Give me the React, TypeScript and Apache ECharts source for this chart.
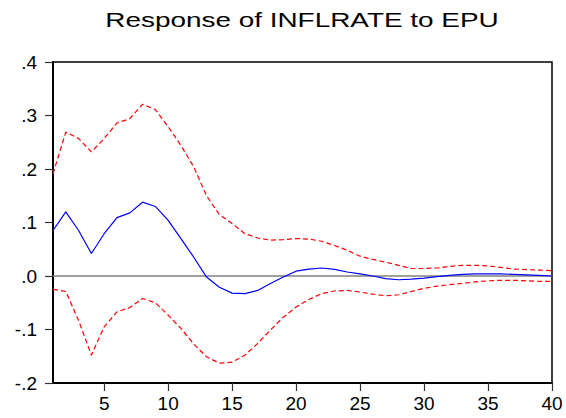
import React, { useEffect, useRef } from "react";
import * as echarts from "echarts";

const periods: number[] = Array.from({ length: 40 }, (_, i) => i + 1);

const response: number[] = [
  0.085, 0.12, 0.085, 0.042, 0.079, 0.109, 0.118, 0.138, 0.13, 0.104,
  0.07, 0.035, -0.002, -0.021, -0.032, -0.033, -0.027, -0.014, -0.002, 0.009,
  0.013, 0.015, 0.0125, 0.0075, 0.004, 0.0, -0.005, -0.007, -0.006, -0.004,
  -0.001, 0.001, 0.003, 0.004, 0.004, 0.004, 0.003, 0.002, 0.001, 0.0,
];

const upperBand: number[] = [
  0.191, 0.269, 0.257, 0.232, 0.257, 0.286, 0.294, 0.321, 0.311, 0.279,
  0.244, 0.204, 0.15, 0.115, 0.098, 0.079, 0.071, 0.067, 0.068, 0.07,
  0.069, 0.065, 0.057, 0.048, 0.037, 0.031, 0.026, 0.02, 0.014, 0.014,
  0.015, 0.018, 0.02, 0.02, 0.019, 0.016, 0.013, 0.012, 0.011, 0.01,
];

const lowerBand: number[] = [
  -0.025, -0.029, -0.083, -0.148, -0.095, -0.067, -0.059, -0.042, -0.05, -0.073,
  -0.098, -0.127, -0.151, -0.163, -0.161, -0.148, -0.126, -0.101, -0.077, -0.058,
  -0.044, -0.033, -0.028, -0.027, -0.03, -0.034, -0.037, -0.035, -0.029, -0.023,
  -0.019, -0.016, -0.014, -0.011, -0.009, -0.008, -0.008, -0.009, -0.01, -0.01,
];

const xTickValues: number[] = [5, 10, 15, 20, 25, 30, 35, 40];
const titleText = "Response of INFLRATE to EPU";

const pair = (vals: number[]) => periods.map((p, i) => [p, vals[i]]);

export default function App() {
  const ref = useRef<HTMLDivElement>(null);
  useEffect(() => {
    if (!ref.current) return;
    const chart = echarts.init(ref.current, null, { renderer: "svg" });
    const font = "'Liberation Sans', Arial, sans-serif";
    chart.setOption({
      animation: false,
      backgroundColor: "#ffffff",
      graphic: [
        {
          type: "text",
          x: 302,
          y: 20,
          scaleX: 1.33,
          style: {
            text: titleText,
            fontSize: 21,
            fontFamily: font,
            fill: "#000000",
            align: "center",
            verticalAlign: "middle",
          },
        },
      ],
      grid: {
        left: 53,
        right: 14,
        top: 62,
        bottom: 35,
        show: true,
        borderColor: "#000000",
        borderWidth: 1.5,
        containLabel: false,
        outerBoundsMode: "none",
      },
      xAxis: {
        type: "value",
        min: 1,
        max: 40,
        axisLine: { show: true, onZero: false, lineStyle: { color: "#000000", width: 2 } },
        axisTick: {
          show: true,
          inside: false,
          length: 8,
          customValues: xTickValues,
          lineStyle: { color: "#333333", width: 1.2 },
        },
        axisLabel: {
          customValues: xTickValues,
          fontSize: 19,
          fontFamily: font,
          color: "#000000",
          margin: 11,
        },
        splitLine: { show: false },
      },
      yAxis: {
        type: "value",
        min: -0.2,
        max: 0.4,
        interval: 0.1,
        axisLine: { show: true, onZero: false, lineStyle: { color: "#000000", width: 2 } },
        axisTick: { show: true, inside: false, length: 8, lineStyle: { color: "#333333", width: 1.2 } },
        axisLabel: {
          fontSize: 19,
          fontFamily: font,
          color: "#000000",
          margin: 16,
          formatter: (v: number) => {
            const s = (Math.round(v * 10) / 10).toFixed(1);
            return s.replace("0.", ".");
          },
        },
        splitLine: { show: false },
      },
      series: [
        {
          type: "line",
          data: pair(upperBand),
          symbol: "none",
          lineStyle: { color: "#ff0000", width: 1.2, type: [5, 3] },
          z: 3,
          markLine: {
            silent: true,
            symbol: "none",
            label: { show: false },
            lineStyle: { color: "#808080", width: 1.5, type: "solid" },
            data: [{ yAxis: 0 }],
            z: 1,
          },
        },
        {
          type: "line",
          data: pair(lowerBand),
          symbol: "none",
          lineStyle: { color: "#ff0000", width: 1.2, type: [5, 3] },
          z: 3,
        },
        {
          type: "line",
          data: pair(response),
          symbol: "none",
          lineStyle: { color: "#0000ff", width: 1.2 },
          z: 4,
        },
      ],
    });
    return () => chart.dispose();
  }, []);
  return (
    <div
      ref={ref}
      style={{ position: "fixed", left: 0, top: 0, width: 566, height: 418 }}
    />
  );
}
